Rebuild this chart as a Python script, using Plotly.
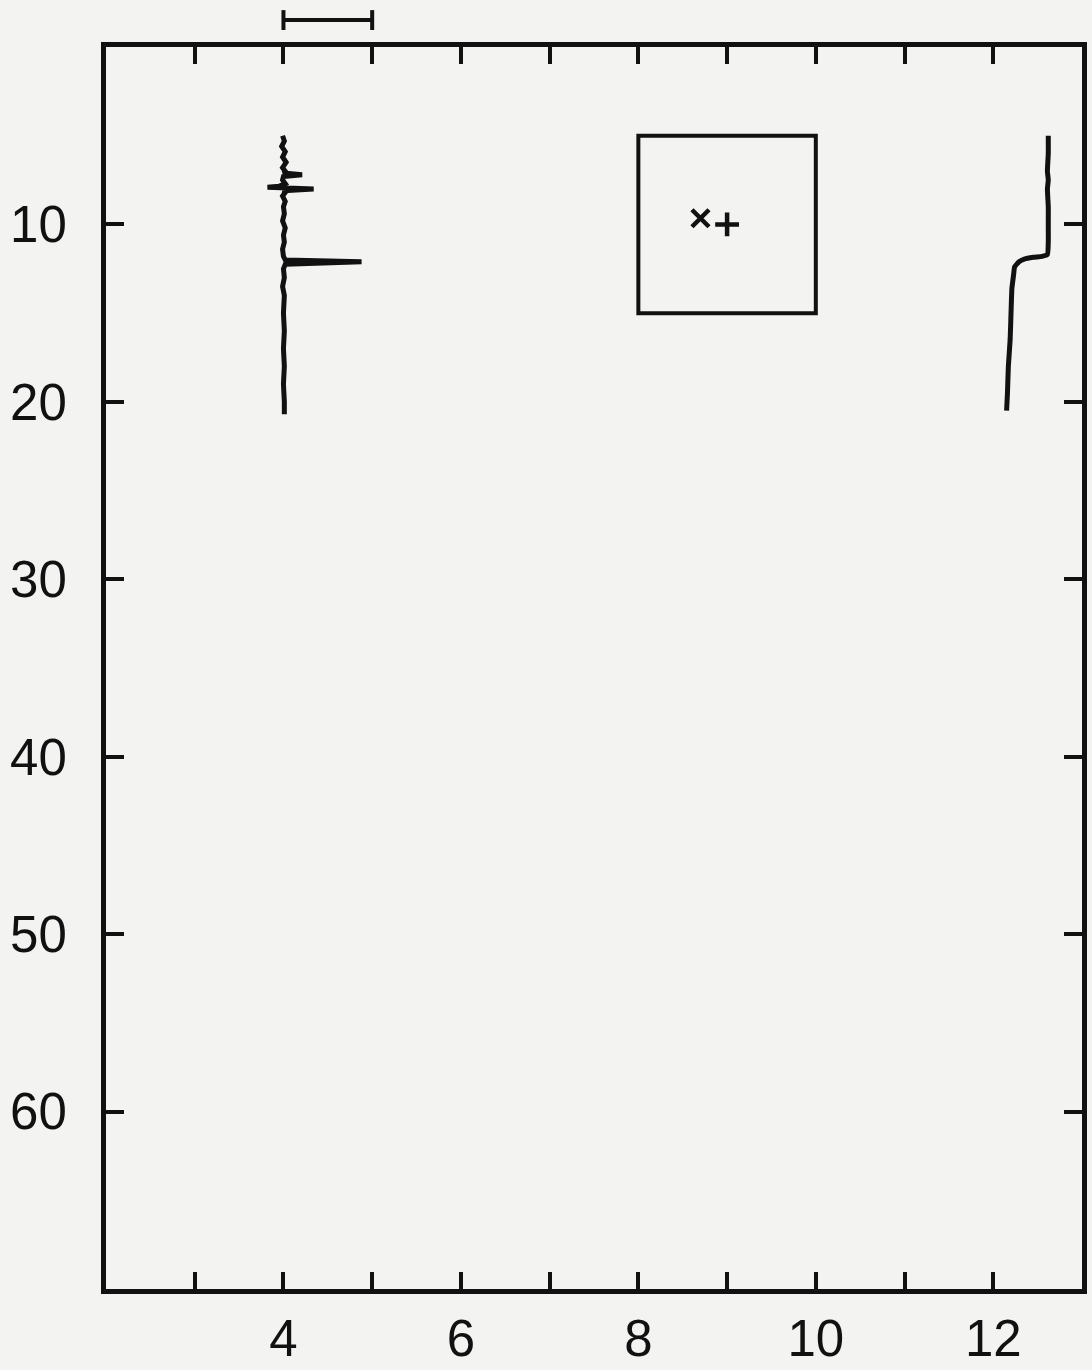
import plotly.graph_objects as go

# ---- data ----
# left profile (depth vs value near 4)
left_depth = [5.0, 5.3, 5.6, 5.9, 6.2, 6.5, 6.8, 7.0, 7.1, 7.2, 7.3, 7.5, 7.7, 7.85, 7.9, 8.0, 8.1, 8.2,
              8.4, 8.7, 9.0, 9.4, 9.8, 10.2, 10.6, 11.0, 11.4, 11.8, 12.0, 12.1, 12.25, 12.5, 13.0,
              13.5, 14.0, 15.0, 16.0, 17.0, 18.0, 19.0, 20.0, 20.7]
left_value = [3.99, 4.01, 3.98, 4.02, 3.99, 4.03, 3.99, 4.02, 4.0, 4.21, 4.0, 3.99, 4.02, 3.95, 3.82, 4.34, 4.0, 4.02,
              3.99, 4.02, 4.0, 4.01, 3.99, 4.02, 4.0, 4.01, 3.99, 4.0, 4.02, 4.88, 4.02, 4.0, 4.01,
              3.99, 4.01, 4.0, 4.01, 4.0, 4.01, 4.0, 4.01, 4.01]

# right profile
right_depth = [5.0, 6.0, 7.0, 7.5, 8.0, 9.0, 10.0, 11.0, 11.7, 11.8, 11.85, 11.95, 12.1, 12.4, 12.8, 13.6,
               15.0, 16.5, 18.0, 19.5, 20.5]
right_value = [12.62, 12.62, 12.61, 12.62, 12.61, 12.62, 12.62, 12.62, 12.61, 12.55, 12.45, 12.35, 12.29, 12.24,
               12.23, 12.21, 12.20, 12.19, 12.17, 12.16, 12.15]

# box and markers
box_x = [8, 10]
box_y = [5, 15]
x_mark = [8.7, 9.65]
plus_mark = [9.0, 10.0]

# scale bar
scale_x = [4, 5]

x_ticks = [3, 4, 5, 6, 7, 8, 9, 10, 11, 12]
x_labels = ["", "4", "", "6", "", "8", "", "10", "", "12"]
y_ticks = [10, 20, 30, 40, 50, 60]
y_labels = ["10", "20", "30", "40", "50", "60"]

INK = "#111111"
BG = "#f3f3f1"

fig = go.Figure()
fig.add_trace(go.Scatter(x=left_value, y=left_depth, mode="lines",
                         line=dict(color=INK, width=5, shape="linear")))
fig.add_trace(go.Scatter(x=right_value, y=right_depth, mode="lines",
                         line=dict(color=INK, width=5, shape="spline", smoothing=0.4)))
fig.add_trace(go.Scatter(x=[x_mark[0]], y=[x_mark[1]], mode="markers",
                         marker=dict(symbol="x-thin", size=17, line=dict(color=INK, width=4.5))))
fig.add_trace(go.Scatter(x=[plus_mark[0]], y=[plus_mark[1]], mode="markers",
                         marker=dict(symbol="cross-thin", size=17, line=dict(color=INK, width=4.5))))

fig.add_shape(type="rect", xref="x", yref="y", x0=box_x[0], x1=box_x[1], y0=box_y[0], y1=box_y[1],
              line=dict(color=INK, width=4))

# scale bar above the plot
bar_y = 1.0217
fig.add_shape(type="line", xref="x", yref="paper", x0=scale_x[0], x1=scale_x[1], y0=bar_y, y1=bar_y,
              line=dict(color=INK, width=4))
for sx in scale_x:
    fig.add_shape(type="line", xref="x", yref="paper", x0=sx, x1=sx, y0=1.0137, y1=1.0297,
                  line=dict(color=INK, width=4))

tick_font = dict(family="Liberation Sans, Arial, sans-serif", size=51, color=INK)

fig.update_layout(
    width=1092, height=1370,
    margin=dict(l=106, r=10, t=47, b=81),
    paper_bgcolor=BG, plot_bgcolor=BG,
    showlegend=False,
    xaxis=dict(range=[2, 13], tickmode="array", tickvals=x_ticks, ticktext=x_labels,
               ticks="inside", ticklen=17, tickwidth=4, tickcolor=INK,
               showline=True, linewidth=5, linecolor=INK, mirror="ticks",
               showgrid=False, zeroline=False, tickfont=tick_font, ticklabelstandoff=1,
               automargin=False),
    yaxis=dict(range=[70, 0], tickmode="array", tickvals=y_ticks, ticktext=y_labels,
               ticks="inside", ticklen=18, tickwidth=4, tickcolor=INK,
               showline=True, linewidth=5, linecolor=INK, mirror="ticks",
               showgrid=False, zeroline=False, tickfont=tick_font, ticklabelstandoff=24,
               automargin=False),
)

fig.write_html("out.html", config={"displayModeBar": False},
               post_script="document.body.style.margin='0';document.body.style.background='%s';" % BG)
